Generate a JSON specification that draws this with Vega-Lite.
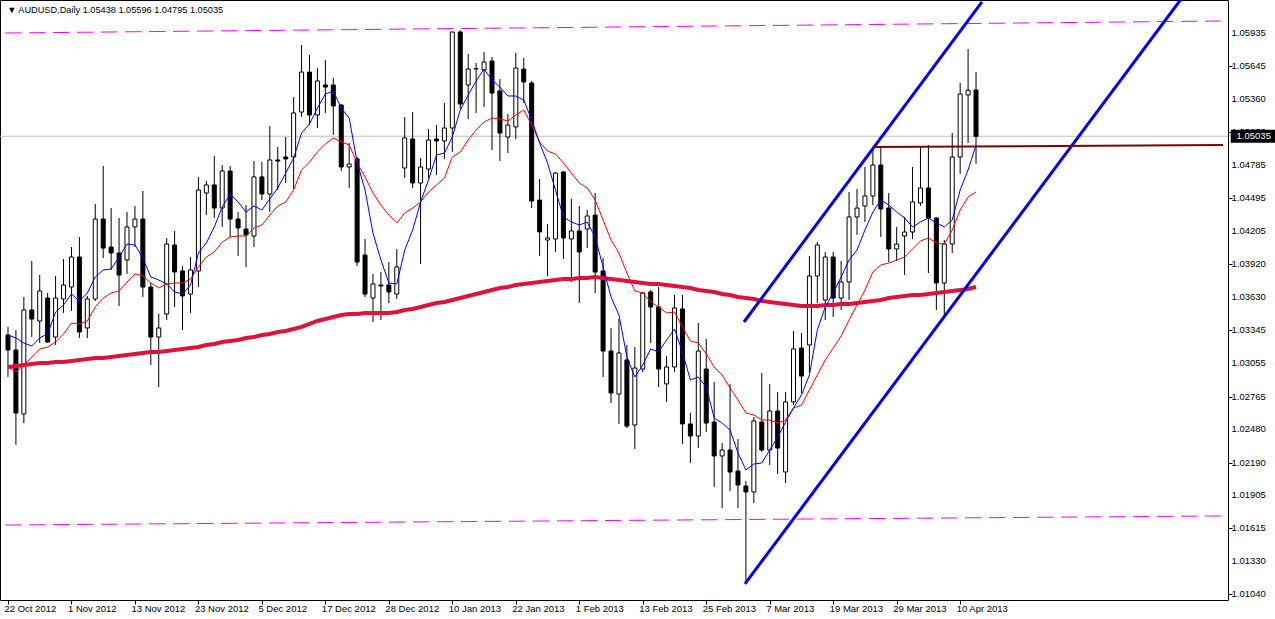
{
"$schema": "https://vega.github.io/schema/vega-lite/v6.json",
"width": 1228, "height": 600,
"autosize": {"type": "none"},
"padding": {"left": 0, "top": 0, "right": 47, "bottom": 19},
"background": "white",
"config": {"view": {"stroke": "black", "strokeWidth": 1}, "axis": {"labelOverlap": false, "labelFlush": false, "labelBound": false}, "axisY": {"labelOverlap": false}, "axisRight": {"labelOverlap": false}, "axisQuantitative": {"labelOverlap": false}},
"datasets": {
"bars": [
{"i":0,"o":1.03302,"h":1.03372,"l":1.02936,"c":1.03171,"ma5":1.03302,"ma21":1.03023,"ma200":1.03023},
{"i":1,"o":1.03171,"h":1.03345,"l":1.02343,"c":1.02622,"ma5":1.03276,"ma21":1.02979,"ma200":1.03032},
{"i":2,"o":1.02613,"h":1.03633,"l":1.02534,"c":1.03520,"ma5":1.03232,"ma21":1.03040,"ma200":1.03040},
{"i":3,"o":1.03520,"h":1.03947,"l":1.03284,"c":1.03441,"ma5":1.03206,"ma21":1.03110,"ma200":1.03049},
{"i":4,"o":1.03424,"h":1.03825,"l":1.03232,"c":1.03686,"ma5":1.03276,"ma21":1.03180,"ma200":1.03058},
{"i":5,"o":1.03624,"h":1.03668,"l":1.03232,"c":1.03241,"ma5":1.03311,"ma21":1.03197,"ma200":1.03058},
{"i":6,"o":1.03284,"h":1.03816,"l":1.03215,"c":1.03624,"ma5":1.03502,"ma21":1.03241,"ma200":1.03066},
{"i":7,"o":1.03616,"h":1.03965,"l":1.03494,"c":1.03738,"ma5":1.03563,"ma21":1.03311,"ma200":1.03066},
{"i":8,"o":1.03720,"h":1.04069,"l":1.03511,"c":1.03982,"ma5":1.03659,"ma21":1.03406,"ma200":1.03075},
{"i":9,"o":1.03982,"h":1.04156,"l":1.03276,"c":1.03328,"ma5":1.03598,"ma21":1.03398,"ma200":1.03084},
{"i":10,"o":1.03363,"h":1.03642,"l":1.03276,"c":1.03616,"ma5":1.03668,"ma21":1.03424,"ma200":1.03093},
{"i":11,"o":1.03616,"h":1.04444,"l":1.03598,"c":1.04313,"ma5":1.03808,"ma21":1.03546,"ma200":1.03101},
{"i":12,"o":1.04313,"h":1.04776,"l":1.03973,"c":1.04060,"ma5":1.03869,"ma21":1.03624,"ma200":1.03101},
{"i":13,"o":1.04069,"h":1.04409,"l":1.03869,"c":1.04017,"ma5":1.03877,"ma21":1.03668,"ma200":1.03110},
{"i":14,"o":1.04017,"h":1.04322,"l":1.03555,"c":1.03825,"ma5":1.03982,"ma21":1.03686,"ma200":1.03119},
{"i":15,"o":1.03956,"h":1.04374,"l":1.03834,"c":1.04244,"ma5":1.04095,"ma21":1.03764,"ma200":1.03127},
{"i":16,"o":1.04244,"h":1.04427,"l":1.04069,"c":1.04313,"ma5":1.04087,"ma21":1.03834,"ma200":1.03136},
{"i":17,"o":1.04313,"h":1.04558,"l":1.03633,"c":1.03720,"ma5":1.03973,"ma21":1.03816,"ma200":1.03145},
{"i":18,"o":1.03720,"h":1.03755,"l":1.03040,"c":1.03284,"ma5":1.03808,"ma21":1.03755,"ma200":1.03154},
{"i":19,"o":1.03284,"h":1.03485,"l":1.02848,"c":1.03363,"ma5":1.03781,"ma21":1.03712,"ma200":1.03154},
{"i":20,"o":1.03485,"h":1.04148,"l":1.03433,"c":1.04095,"ma5":1.03747,"ma21":1.03747,"ma200":1.03162},
{"i":21,"o":1.04087,"h":1.04209,"l":1.03546,"c":1.03851,"ma5":1.03677,"ma21":1.03755,"ma200":1.03171},
{"i":22,"o":1.03860,"h":1.03904,"l":1.03345,"c":1.03642,"ma5":1.03659,"ma21":1.03755,"ma200":1.03180},
{"i":23,"o":1.03659,"h":1.03982,"l":1.03494,"c":1.03869,"ma5":1.03738,"ma21":1.03790,"ma200":1.03188},
{"i":24,"o":1.03860,"h":1.04680,"l":1.03720,"c":1.04566,"ma5":1.04017,"ma21":1.03895,"ma200":1.03197},
{"i":25,"o":1.04540,"h":1.04645,"l":1.04348,"c":1.04610,"ma5":1.04104,"ma21":1.03982,"ma200":1.03215},
{"i":26,"o":1.04610,"h":1.04863,"l":1.04322,"c":1.04409,"ma5":1.04244,"ma21":1.04026,"ma200":1.03223},
{"i":27,"o":1.04409,"h":1.04784,"l":1.04244,"c":1.04732,"ma5":1.04418,"ma21":1.04113,"ma200":1.03241},
{"i":28,"o":1.04732,"h":1.04776,"l":1.04156,"c":1.04313,"ma5":1.04531,"ma21":1.04156,"ma200":1.03250},
{"i":29,"o":1.04313,"h":1.04374,"l":1.03991,"c":1.04235,"ma5":1.04462,"ma21":1.04165,"ma200":1.03258},
{"i":30,"o":1.04226,"h":1.04435,"l":1.03895,"c":1.04174,"ma5":1.04374,"ma21":1.04165,"ma200":1.03276},
{"i":31,"o":1.04165,"h":1.04819,"l":1.04069,"c":1.04680,"ma5":1.04427,"ma21":1.04235,"ma200":1.03284},
{"i":32,"o":1.04680,"h":1.04810,"l":1.04479,"c":1.04531,"ma5":1.04392,"ma21":1.04261,"ma200":1.03302},
{"i":33,"o":1.04531,"h":1.05124,"l":1.04374,"c":1.04828,"ma5":1.04488,"ma21":1.04348,"ma200":1.03311},
{"i":34,"o":1.04828,"h":1.04941,"l":1.04566,"c":1.04819,"ma5":1.04584,"ma21":1.04427,"ma200":1.03328},
{"i":35,"o":1.04854,"h":1.05028,"l":1.04627,"c":1.04837,"ma5":1.04714,"ma21":1.04462,"ma200":1.03337},
{"i":36,"o":1.04854,"h":1.05377,"l":1.04575,"c":1.05238,"ma5":1.04845,"ma21":1.04566,"ma200":1.03354},
{"i":37,"o":1.05246,"h":1.05831,"l":1.05203,"c":1.05595,"ma5":1.05063,"ma21":1.04741,"ma200":1.03372},
{"i":38,"o":1.05595,"h":1.05743,"l":1.05133,"c":1.05220,"ma5":1.05142,"ma21":1.04810,"ma200":1.03398},
{"i":39,"o":1.05220,"h":1.05630,"l":1.05107,"c":1.05517,"ma5":1.05281,"ma21":1.04898,"ma200":1.03424},
{"i":40,"o":1.05482,"h":1.05700,"l":1.05238,"c":1.05464,"ma5":1.05403,"ma21":1.04967,"ma200":1.03441},
{"i":41,"o":1.05482,"h":1.05543,"l":1.05046,"c":1.05299,"ma5":1.05430,"ma21":1.05020,"ma200":1.03459},
{"i":42,"o":1.05307,"h":1.05316,"l":1.04732,"c":1.04767,"ma5":1.05281,"ma21":1.04985,"ma200":1.03476},
{"i":43,"o":1.04767,"h":1.04976,"l":1.04584,"c":1.04793,"ma5":1.05194,"ma21":1.04959,"ma200":1.03485},
{"i":44,"o":1.04837,"h":1.04854,"l":1.03904,"c":1.03938,"ma5":1.04810,"ma21":1.04802,"ma200":1.03485},
{"i":45,"o":1.03999,"h":1.04139,"l":1.03633,"c":1.03659,"ma5":1.04566,"ma21":1.04680,"ma200":1.03494},
{"i":46,"o":1.03624,"h":1.03834,"l":1.03415,"c":1.03747,"ma5":1.04191,"ma21":1.04540,"ma200":1.03494},
{"i":47,"o":1.03738,"h":1.03851,"l":1.03433,"c":1.03729,"ma5":1.03956,"ma21":1.04435,"ma200":1.03494},
{"i":48,"o":1.03738,"h":1.03938,"l":1.03581,"c":1.03677,"ma5":1.03755,"ma21":1.04348,"ma200":1.03494},
{"i":49,"o":1.03659,"h":1.04052,"l":1.03616,"c":1.03895,"ma5":1.03747,"ma21":1.04278,"ma200":1.03502},
{"i":50,"o":1.04758,"h":1.05203,"l":1.04671,"c":1.05020,"ma5":1.04043,"ma21":1.04366,"ma200":1.03520},
{"i":51,"o":1.05011,"h":1.05246,"l":1.04584,"c":1.04627,"ma5":1.04217,"ma21":1.04409,"ma200":1.03529},
{"i":52,"o":1.04627,"h":1.04845,"l":1.03921,"c":1.04767,"ma5":1.04462,"ma21":1.04462,"ma200":1.03546},
{"i":53,"o":1.04749,"h":1.05098,"l":1.04671,"c":1.05002,"ma5":1.04653,"ma21":1.04549,"ma200":1.03563},
{"i":54,"o":1.05011,"h":1.05133,"l":1.04697,"c":1.04994,"ma5":1.04871,"ma21":1.04610,"ma200":1.03581},
{"i":55,"o":1.04994,"h":1.05325,"l":1.04837,"c":1.05107,"ma5":1.04889,"ma21":1.04671,"ma200":1.03590},
{"i":56,"o":1.05107,"h":1.05944,"l":1.04898,"c":1.05944,"ma5":1.05028,"ma21":1.04854,"ma200":1.03607},
{"i":57,"o":1.05944,"h":1.05960,"l":1.05273,"c":1.05316,"ma5":1.05264,"ma21":1.04898,"ma200":1.03624},
{"i":58,"o":1.05482,"h":1.05752,"l":1.05185,"c":1.05621,"ma5":1.05395,"ma21":1.05002,"ma200":1.03642},
{"i":59,"o":1.05621,"h":1.05674,"l":1.05238,"c":1.05625,"ma5":1.05517,"ma21":1.05089,"ma200":1.03659},
{"i":60,"o":1.05613,"h":1.05770,"l":1.05290,"c":1.05682,"ma5":1.05621,"ma21":1.05159,"ma200":1.03677},
{"i":61,"o":1.05691,"h":1.05726,"l":1.04915,"c":1.05412,"ma5":1.05525,"ma21":1.05194,"ma200":1.03694},
{"i":62,"o":1.05430,"h":1.05534,"l":1.04819,"c":1.05063,"ma5":1.05464,"ma21":1.05185,"ma200":1.03712},
{"i":63,"o":1.05028,"h":1.05229,"l":1.04889,"c":1.05133,"ma5":1.05386,"ma21":1.05168,"ma200":1.03720},
{"i":64,"o":1.05116,"h":1.05761,"l":1.05011,"c":1.05630,"ma5":1.05386,"ma21":1.05220,"ma200":1.03738},
{"i":65,"o":1.05621,"h":1.05717,"l":1.05325,"c":1.05508,"ma5":1.05351,"ma21":1.05264,"ma200":1.03747},
{"i":66,"o":1.05499,"h":1.05517,"l":1.04409,"c":1.04470,"ma5":1.05177,"ma21":1.05133,"ma200":1.03755},
{"i":67,"o":1.04479,"h":1.04662,"l":1.03991,"c":1.04200,"ma5":1.04976,"ma21":1.04985,"ma200":1.03764},
{"i":68,"o":1.04130,"h":1.04270,"l":1.03816,"c":1.04148,"ma5":1.04802,"ma21":1.04906,"ma200":1.03773},
{"i":69,"o":1.04139,"h":1.04723,"l":1.04026,"c":1.04714,"ma5":1.04566,"ma21":1.04880,"ma200":1.03781},
{"i":70,"o":1.04723,"h":1.04732,"l":1.03965,"c":1.04148,"ma5":1.04331,"ma21":1.04802,"ma200":1.03790},
{"i":71,"o":1.04139,"h":1.04488,"l":1.03764,"c":1.04209,"ma5":1.04287,"ma21":1.04714,"ma200":1.03790},
{"i":72,"o":1.04209,"h":1.04427,"l":1.03581,"c":1.04026,"ma5":1.04261,"ma21":1.04627,"ma200":1.03799},
{"i":73,"o":1.04226,"h":1.04392,"l":1.04060,"c":1.04340,"ma5":1.04287,"ma21":1.04584,"ma200":1.03799},
{"i":74,"o":1.04348,"h":1.04540,"l":1.03668,"c":1.03851,"ma5":1.04156,"ma21":1.04479,"ma200":1.03808},
{"i":75,"o":1.03860,"h":1.03973,"l":1.02936,"c":1.03162,"ma5":1.03895,"ma21":1.04305,"ma200":1.03799},
{"i":76,"o":1.03162,"h":1.03363,"l":1.02709,"c":1.02796,"ma5":1.03633,"ma21":1.04130,"ma200":1.03790},
{"i":77,"o":1.02787,"h":1.03441,"l":1.02526,"c":1.03145,"ma5":1.03476,"ma21":1.04017,"ma200":1.03781},
{"i":78,"o":1.03084,"h":1.03215,"l":1.02491,"c":1.02508,"ma5":1.03110,"ma21":1.03842,"ma200":1.03773},
{"i":79,"o":1.02517,"h":1.03197,"l":1.02308,"c":1.03014,"ma5":1.02936,"ma21":1.03686,"ma200":1.03764},
{"i":80,"o":1.03005,"h":1.03677,"l":1.02979,"c":1.03668,"ma5":1.03040,"ma21":1.03668,"ma200":1.03755},
{"i":81,"o":1.03677,"h":1.03694,"l":1.03232,"c":1.03546,"ma5":1.03180,"ma21":1.03590,"ma200":1.03747},
{"i":82,"o":1.03546,"h":1.03720,"l":1.02848,"c":1.03005,"ma5":1.03154,"ma21":1.03546,"ma200":1.03747},
{"i":83,"o":1.02875,"h":1.03119,"l":1.02718,"c":1.03023,"ma5":1.03258,"ma21":1.03494,"ma200":1.03738},
{"i":84,"o":1.03023,"h":1.03651,"l":1.02979,"c":1.03537,"ma5":1.03354,"ma21":1.03502,"ma200":1.03729},
{"i":85,"o":1.03529,"h":1.03651,"l":1.02351,"c":1.02526,"ma5":1.03154,"ma21":1.03372,"ma200":1.03720},
{"i":86,"o":1.02526,"h":1.02622,"l":1.02186,"c":1.02421,"ma5":1.02909,"ma21":1.03250,"ma200":1.03712},
{"i":87,"o":1.02421,"h":1.03406,"l":1.02316,"c":1.03162,"ma5":1.02936,"ma21":1.03232,"ma200":1.03694},
{"i":88,"o":1.03005,"h":1.03267,"l":1.02456,"c":1.02534,"ma5":1.02848,"ma21":1.03136,"ma200":1.03686},
{"i":89,"o":1.02543,"h":1.02892,"l":1.01976,"c":1.02247,"ma5":1.02578,"ma21":1.03023,"ma200":1.03677},
{"i":90,"o":1.02247,"h":1.02360,"l":1.01793,"c":1.02299,"ma5":1.02534,"ma21":1.02953,"ma200":1.03659},
{"i":91,"o":1.02299,"h":1.02875,"l":1.01942,"c":1.02107,"ma5":1.02473,"ma21":1.02840,"ma200":1.03651},
{"i":92,"o":1.02116,"h":1.02395,"l":1.01793,"c":1.01994,"ma5":1.02273,"ma21":1.02735,"ma200":1.03633},
{"i":93,"o":1.01985,"h":1.02029,"l":1.01131,"c":1.01933,"ma5":1.02125,"ma21":1.02622,"ma200":1.03624},
{"i":94,"o":1.01933,"h":1.02587,"l":1.01837,"c":1.02552,"ma5":1.02177,"ma21":1.02604,"ma200":1.03616},
{"i":95,"o":1.02543,"h":1.02970,"l":1.02282,"c":1.02299,"ma5":1.02186,"ma21":1.02561,"ma200":1.03598},
{"i":96,"o":1.02299,"h":1.02875,"l":1.02168,"c":1.02639,"ma5":1.02299,"ma21":1.02561,"ma200":1.03590},
{"i":97,"o":1.02639,"h":1.02805,"l":1.02090,"c":1.02316,"ma5":1.02412,"ma21":1.02534,"ma200":1.03581},
{"i":98,"o":1.02107,"h":1.02805,"l":1.02011,"c":1.02718,"ma5":1.02543,"ma21":1.02561,"ma200":1.03572},
{"i":99,"o":1.02718,"h":1.03337,"l":1.02691,"c":1.03180,"ma5":1.02665,"ma21":1.02665,"ma200":1.03563},
{"i":100,"o":1.03188,"h":1.03319,"l":1.02796,"c":1.02944,"ma5":1.02779,"ma21":1.02691,"ma200":1.03555},
{"i":101,"o":1.03215,"h":1.03991,"l":1.02970,"c":1.03816,"ma5":1.02953,"ma21":1.02822,"ma200":1.03555},
{"i":102,"o":1.03816,"h":1.04113,"l":1.03581,"c":1.04087,"ma5":1.03345,"ma21":1.02953,"ma200":1.03555},
{"i":103,"o":1.03607,"h":1.04026,"l":1.03433,"c":1.03982,"ma5":1.03546,"ma21":1.03084,"ma200":1.03563},
{"i":104,"o":1.03982,"h":1.04026,"l":1.03459,"c":1.03624,"ma5":1.03668,"ma21":1.03188,"ma200":1.03563},
{"i":105,"o":1.03624,"h":1.03947,"l":1.03520,"c":1.03764,"ma5":1.03808,"ma21":1.03293,"ma200":1.03572},
{"i":106,"o":1.03764,"h":1.04549,"l":1.03607,"c":1.04331,"ma5":1.03956,"ma21":1.03433,"ma200":1.03572},
{"i":107,"o":1.04331,"h":1.04575,"l":1.04174,"c":1.04409,"ma5":1.04043,"ma21":1.03563,"ma200":1.03581},
{"i":108,"o":1.04427,"h":1.04767,"l":1.04287,"c":1.04514,"ma5":1.04217,"ma21":1.03694,"ma200":1.03590},
{"i":109,"o":1.04514,"h":1.04941,"l":1.04435,"c":1.04784,"ma5":1.04374,"ma21":1.03851,"ma200":1.03598},
{"i":110,"o":1.04784,"h":1.04941,"l":1.04156,"c":1.04401,"ma5":1.04479,"ma21":1.03912,"ma200":1.03607},
{"i":111,"o":1.04409,"h":1.04540,"l":1.03938,"c":1.04052,"ma5":1.04435,"ma21":1.03930,"ma200":1.03624},
{"i":112,"o":1.04052,"h":1.04244,"l":1.03947,"c":1.04095,"ma5":1.04374,"ma21":1.03956,"ma200":1.03633},
{"i":113,"o":1.04165,"h":1.04331,"l":1.03825,"c":1.04200,"ma5":1.04322,"ma21":1.03982,"ma200":1.03642},
{"i":114,"o":1.04200,"h":1.04767,"l":1.04139,"c":1.04462,"ma5":1.04244,"ma21":1.04052,"ma200":1.03651},
{"i":115,"o":1.04453,"h":1.04950,"l":1.04427,"c":1.04584,"ma5":1.04287,"ma21":1.04122,"ma200":1.03651},
{"i":116,"o":1.04584,"h":1.04959,"l":1.03842,"c":1.04322,"ma5":1.04322,"ma21":1.04148,"ma200":1.03659},
{"i":117,"o":1.04322,"h":1.04330,"l":1.03520,"c":1.03755,"ma5":1.04278,"ma21":1.04104,"ma200":1.03668},
{"i":118,"o":1.03755,"h":1.04130,"l":1.03459,"c":1.04095,"ma5":1.04244,"ma21":1.04095,"ma200":1.03677},
{"i":119,"o":1.04095,"h":1.05063,"l":1.04017,"c":1.04854,"ma5":1.04305,"ma21":1.04217,"ma200":1.03686},
{"i":120,"o":1.04854,"h":1.05499,"l":1.04706,"c":1.05403,"ma5":1.04566,"ma21":1.04392,"ma200":1.03694},
{"i":121,"o":1.05395,"h":1.05796,"l":1.04976,"c":1.05436,"ma5":1.04741,"ma21":1.04505,"ma200":1.03703},
{"i":122,"o":1.05438,"h":1.05596,"l":1.04795,"c":1.05035,"ma5":1.04959,"ma21":1.04549,"ma200":1.03720}
],
"lines": [
{"s":"top","i":-0.375,"p":1.05935},{"s":"top","i":153.125,"p":1.06040},
{"s":"bot","i":-0.375,"p":1.01645},{"s":"bot","i":153.125,"p":1.01724},
{"s":"up","i":92.75,"p":1.03415},{"s":"up","i":122.75,"p":1.06206},
{"s":"low","i":92.875,"p":1.01131},{"s":"low","i":147.75,"p":1.06223},
{"s":"res","i":109,"p":1.04941},{"s":"res","i":153.125,"p":1.04959}
],
"last": [{"p":1.05035}],
"head": [{"t":"▼ AUDUSD,Daily  1.05438 1.05596 1.04795 1.05035"}],
"yticks": [{"p":1.05935},{"p":1.05645},{"p":1.0536},{"p":1.0507},{"p":1.04785},{"p":1.04495},{"p":1.04205},{"p":1.0392},{"p":1.0363},{"p":1.03345},{"p":1.03055},{"p":1.02765},{"p":1.0248},{"p":1.0219},{"p":1.01905},{"p":1.01615},{"p":1.0133},{"p":1.0104}]
},
"layer": [
{"data": {"name": "last"}, "mark": {"type": "rule", "color": "#C0C0C0", "strokeWidth": 1},
 "encoding": {"y": {"field": "p", "type": "quantitative", "title": null, "scale": {"domain": [1.00991, 1.06223], "nice": false, "zero": false}}}},
{"data": {"name": "lines"}, "transform": [{"filter": "datum.s == 'top' || datum.s == 'bot'"}],
 "mark": {"type": "line", "color": "#FF00FF", "strokeWidth": 1, "strokeDash": [16, 8]},
 "encoding": {"x": {"field": "i", "type": "quantitative", "title": null, "scale": {"domain": [-0.375, 153.125], "nice": false, "zero": false}},
  "y": {"field": "p", "type": "quantitative", "title": null, "scale": {"domain": [1.00991, 1.06223], "nice": false, "zero": false}},
  "detail": {"field": "s"}}},
{"data": {"name": "bars"}, "mark": {"type": "rule", "color": "black", "strokeWidth": 1},
 "encoding": {"x": {"field": "i", "type": "quantitative", "title": null, "scale": {"domain": [-0.375, 153.125], "nice": false, "zero": false},
   "axis": {"title": null, "values": [0,8,16,24,32,40,48,56,64,72,80,88,96,104,112,120],
    "labelExpr": "['22 Oct 2012','1 Nov 2012','13 Nov 2012','23 Nov 2012','5 Dec 2012','17 Dec 2012','28 Dec 2012','10 Jan 2013','22 Jan 2013','1 Feb 2013','13 Feb 2013','25 Feb 2013','7 Mar 2013','19 Mar 2013','29 Mar 2013','10 Apr 2013'][round(datum.value/8)]",
    "labelAlign": "left", "labelBaseline": "top", "labelPadding": -1, "labelOffset": -4, "tickSize": 4, "tickColor": "black", "domain": false, "grid": false,
    "labelFont": "Liberation Sans", "labelFontSize": 9.5, "labelColor": "black", "labelOverlap": false, "labelFlush": false}},
  "y": {"field": "h", "type": "quantitative", "title": null, "scale": {"domain": [1.00991, 1.06223], "nice": false, "zero": false},
   "axis": {"title": null, "orient": "right", "values": [1.05935,1.05645,1.0536,1.0507,1.04785,1.04495,1.04205,1.0392,1.0363,1.03345,1.03055,1.02765,1.0248,1.0219,1.01905,1.01615,1.0133,1.0104],
    "format": ".5f", "tickSize": 4, "tickColor": "black", "domain": false, "grid": false, "labels": false}},
  "y2": {"field": "l"}}},
{"data": {"name": "bars"}, "mark": {"type": "bar", "orient": "vertical", "width": 4, "stroke": "black", "strokeWidth": 1},
 "encoding": {"x": {"field": "i", "type": "quantitative", "title": null, "scale": {"domain": [-0.375, 153.125], "nice": false, "zero": false}},
  "y": {"field": "o", "type": "quantitative", "title": null, "scale": {"domain": [1.00991, 1.06223], "nice": false, "zero": false}},
  "y2": {"field": "c"},
  "fill": {"condition": {"test": "datum.c < datum.o", "value": "black"}, "value": "white"}}},
{"data": {"name": "bars"}, "mark": {"type": "line", "color": "#DC143C", "strokeWidth": 4},
 "encoding": {"x": {"field": "i", "type": "quantitative", "title": null, "scale": {"domain": [-0.375, 153.125], "nice": false, "zero": false}},
  "y": {"field": "ma200", "type": "quantitative", "title": null, "scale": {"domain": [1.00991, 1.06223], "nice": false, "zero": false}}}},
{"data": {"name": "bars"}, "mark": {"type": "line", "color": "#FF0000", "strokeWidth": 1},
 "encoding": {"x": {"field": "i", "type": "quantitative", "title": null, "scale": {"domain": [-0.375, 153.125], "nice": false, "zero": false}},
  "y": {"field": "ma21", "type": "quantitative", "title": null, "scale": {"domain": [1.00991, 1.06223], "nice": false, "zero": false}}}},
{"data": {"name": "bars"}, "mark": {"type": "line", "color": "#0000FF", "strokeWidth": 1},
 "encoding": {"x": {"field": "i", "type": "quantitative", "title": null, "scale": {"domain": [-0.375, 153.125], "nice": false, "zero": false}},
  "y": {"field": "ma5", "type": "quantitative", "title": null, "scale": {"domain": [1.00991, 1.06223], "nice": false, "zero": false}}}},
{"data": {"name": "lines"}, "transform": [{"filter": "datum.s == 'up' || datum.s == 'low'"}],
 "mark": {"type": "line", "color": "#0000FF", "strokeWidth": 3},
 "encoding": {"x": {"field": "i", "type": "quantitative", "title": null, "scale": {"domain": [-0.375, 153.125], "nice": false, "zero": false}},
  "y": {"field": "p", "type": "quantitative", "title": null, "scale": {"domain": [1.00991, 1.06223], "nice": false, "zero": false}},
  "detail": {"field": "s"}}},
{"data": {"name": "lines"}, "transform": [{"filter": "datum.s == 'res'"}],
 "mark": {"type": "line", "color": "#800000", "strokeWidth": 2},
 "encoding": {"x": {"field": "i", "type": "quantitative", "title": null, "scale": {"domain": [-0.375, 153.125], "nice": false, "zero": false}},
  "y": {"field": "p", "type": "quantitative", "title": null, "scale": {"domain": [1.00991, 1.06223], "nice": false, "zero": false}}}},
{"data": {"name": "yticks"}, "mark": {"type": "text", "color": "black", "font": "Liberation Sans", "fontSize": 9.5, "align": "left", "baseline": "middle"},
 "encoding": {"x": {"datum": 154.2, "type": "quantitative"},
  "y": {"field": "p", "type": "quantitative", "title": null, "scale": {"domain": [1.00991, 1.06223], "nice": false, "zero": false}},
  "text": {"field": "p", "type": "quantitative", "format": ".5f"}}},
{"data": {"name": "last"}, "mark": {"type": "tick", "orient": "horizontal", "size": 46, "thickness": 13, "color": "black", "opacity": 1},
 "encoding": {"x": {"datum": 157.0, "type": "quantitative"},
  "y": {"field": "p", "type": "quantitative", "title": null, "scale": {"domain": [1.00991, 1.06223], "nice": false, "zero": false}}}},
{"data": {"name": "last"}, "mark": {"type": "text", "color": "white", "font": "Liberation Sans", "fontSize": 9.5, "align": "center", "baseline": "middle"},
 "encoding": {"x": {"datum": 157.0, "type": "quantitative"},
  "y": {"field": "p", "type": "quantitative", "title": null, "scale": {"domain": [1.00991, 1.06223], "nice": false, "zero": false}},
  "text": {"field": "p", "type": "quantitative", "format": ".5f"}}},
{"data": {"name": "head"}, "mark": {"type": "text", "color": "black", "font": "Liberation Sans", "fontSize": 9.2, "align": "left", "baseline": "middle"},
 "encoding": {"x": {"datum": -0.1, "type": "quantitative"},
  "y": {"datum": 1.06136, "type": "quantitative"},
  "text": {"field": "t"}}}
]
}
